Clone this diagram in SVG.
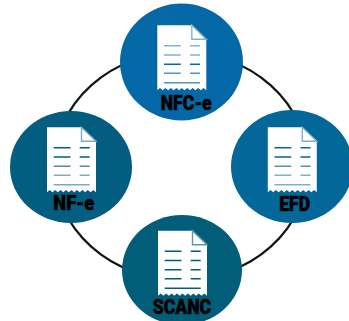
<svg xmlns="http://www.w3.org/2000/svg" width="349" height="321" viewBox="0 0 349 321">
<style>
.lbl{font-family:Roboto,"Liberation Sans",sans-serif;font-weight:900;font-size:20px;fill:#000;stroke:#000;stroke-width:.5px}
.page{fill:#fff}
.fold{fill:#fff;stroke-width:1.4}
.ln{fill:none;stroke-width:1.5}
</style>
<defs>
<path id="sheet" class="page" d="M0 0H34.500L49 14V65l-2.700-2.200-2.700 2.200-2.800-2.200-2.700 2.200-2.700-2.200-2.700 2.200-2.800-2.200-2.700 2.200-2.700-2.200-2.700 2.200-2.800-2.200-2.700 2.200-2.700-2.200-2.700 2.200-2.800-2.200-2.700 2.200-2.700-2.200L0 65Z"/>
<path id="corner" class="fold" d="M34.500 0V14H49Z"/>
<path id="rules-a" class="ln" d="M6.700 20.500H23.500M32.700 20.500H42.700M6.700 29.800H23.500M32.700 29.800H42.700"/>
<path id="rules-b" class="ln" d="M6.700 39H23.500M32.700 39H42.700"/>
<path id="rules-c" class="ln" d="M6.700 48H23.500M32.700 48H42.700M6.700 57.500H42.700"/>
</defs>
<g id="connectors">
<ellipse cx="181" cy="166" rx="127" ry="114" fill="none" stroke="#141414" stroke-width="2.200"/>
</g>
<g id="nfce">
<ellipse cx="181.500" cy="62" rx="61.500" ry="58.500" fill="#0568a6"/>
<g transform="translate(157.300 25.200)">
<use href="#sheet"/>
<use href="#corner" stroke="#7fb3d3"/>
<use href="#rules-a" stroke="#7fb3d3"/>
<use href="#rules-b" stroke="#0568a6"/>
<use href="#rules-c" stroke="#4f96c4"/>
</g>
<text class="lbl" x="160.700" y="110" textLength="51" lengthAdjust="spacingAndGlyphs">NFC-e</text>
</g>
<g id="nfe">
<ellipse cx="71" cy="167" rx="61" ry="56" fill="#035d80"/>
<g transform="translate(47 127.300)">
<use href="#sheet"/>
<use href="#corner" stroke="#7fa9bc"/>
<use href="#rules-a" stroke="#035d80"/>
<use href="#rules-b" stroke="#4f8aa3"/>
<use href="#rules-c" stroke="#7fa9bc"/>
</g>
<text class="lbl" x="53.300" y="210" textLength="41" lengthAdjust="spacingAndGlyphs">NF-e</text>
</g>
<g id="efd">
<ellipse cx="292" cy="166.500" rx="61" ry="56.500" fill="#03679a"/>
<g transform="translate(267.800 127.300)">
<use href="#sheet"/>
<use href="#corner" stroke="#7fb0cb"/>
<use href="#rules-a" stroke="#03679a"/>
<use href="#rules-b" stroke="#4f93b8"/>
<use href="#rules-c" stroke="#7fb0cb"/>
</g>
<text class="lbl" x="279.300" y="210.500" textLength="30.700" lengthAdjust="spacingAndGlyphs">EFD</text>
</g>
<g id="scanc">
<ellipse cx="182" cy="270" rx="60" ry="55" fill="#025d78"/>
<g transform="translate(158 230.700)">
<use href="#sheet"/>
<use href="#corner" stroke="#5f98ab"/>
<use href="#rules-a" stroke="#025d78"/>
<use href="#rules-b" stroke="#025d78"/>
<use href="#rules-c" stroke="#025d78"/>
</g>
<text class="lbl" x="152.700" y="314.300" textLength="58.300" lengthAdjust="spacingAndGlyphs">SCANC</text>
</g>
</svg>
